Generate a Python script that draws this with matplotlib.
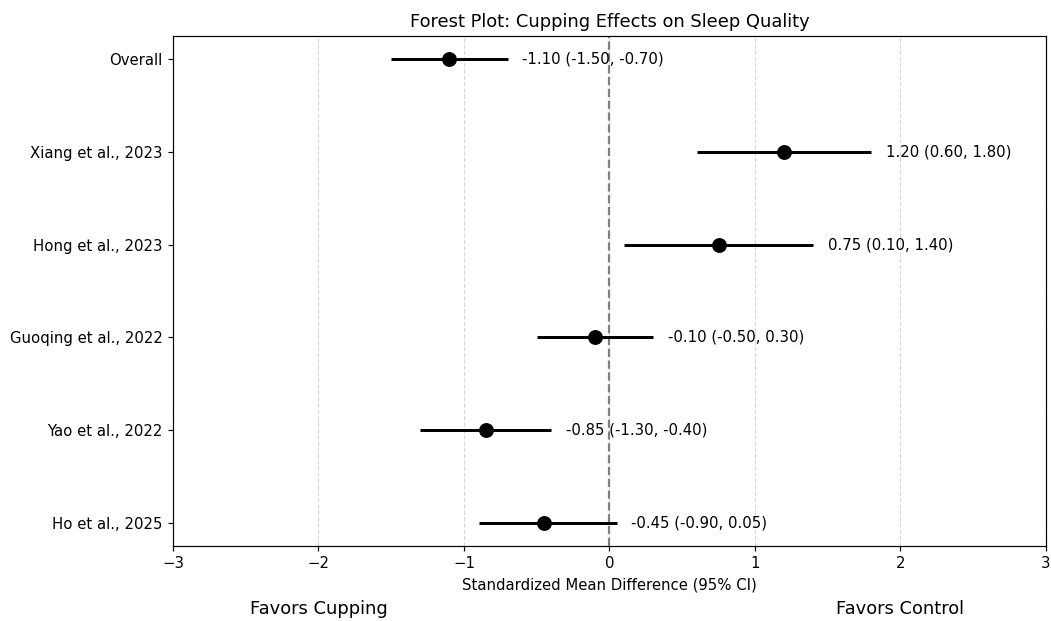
import matplotlib
matplotlib.use("Agg")
import matplotlib.pyplot as plt
import matplotlib.transforms as mtransforms

studies = ["Ho et al., 2025", "Yao et al., 2022", "Guoqing et al., 2022",
           "Hong et al., 2023", "Xiang et al., 2023", "Overall"]
smd = [-0.45, -0.85, -0.10, 0.75, 1.20, -1.10]
lower = [-0.90, -1.30, -0.50, 0.10, 0.60, -1.50]
upper = [0.05, -0.40, 0.30, 1.40, 1.80, -0.70]

DPI = 107
fig = plt.figure(figsize=(1051 / DPI, 621 / DPI), dpi=DPI)
ax = fig.add_axes([0.1646, 0.1208, 0.8306, 0.8212])

ypos = list(range(len(studies)))
xerr = [[m - l for m, l in zip(smd, lower)], [u - m for m, u in zip(smd, upper)]]
ax.errorbar(smd, ypos, xerr=xerr, fmt='o', color='black', ecolor='black',
            elinewidth=2, markersize=9, capsize=0, zorder=3)

for y, m, l, u in zip(ypos, smd, lower, upper):
    ax.text(u + 0.1, y, f"{m:.2f} ({l:.2f}, {u:.2f})", va='center', ha='left', fontsize=10)

ax.axvline(0, color='gray', linestyle='--', linewidth=1.5, zorder=2)
ax.set_yticks(ypos)
ax.set_yticklabels(studies)
ax.set_xlim(-3, 3)
ax.set_ylim(-0.25, 5.25)
ax.grid(axis='x', linestyle='--', alpha=0.5)
ax.set_axisbelow(True)
ax.set_xlabel("Standardized Mean Difference (95% CI)")
ax.set_title("Forest Plot: Cupping Effects on Sleep Quality")

trans = mtransforms.blended_transform_factory(ax.transData, ax.transAxes)
ax.text(-2, -0.124, "Favors Cupping", transform=trans, ha='center', va='center', fontsize=12)
ax.text(2, -0.124, "Favors Control", transform=trans, ha='center', va='center', fontsize=12)

fig.savefig("out.png", dpi=DPI)
